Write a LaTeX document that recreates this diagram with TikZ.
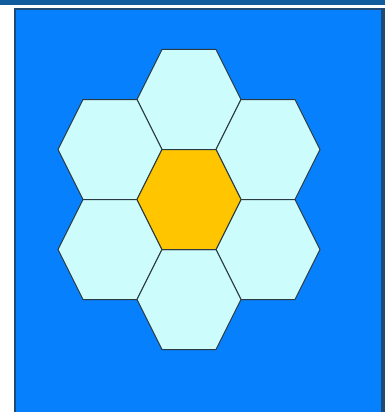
\documentclass[tikz,border=0pt]{standalone}
\begin{document}
\begin{tikzpicture}[x=1pt,y=-1pt,
  hexedge/.style={draw=edgecol, line width=1pt, line join=miter},
  petal/.style={hexedge, fill=petalcol},
  heart/.style={hexedge, fill=heartcol}]
\definecolor{navy}{HTML}{115C9C}
\definecolor{skyblue}{HTML}{0780FD}
\definecolor{petalcol}{HTML}{CCFCFC}
\definecolor{heartcol}{HTML}{FFC600}
\definecolor{frameline}{HTML}{1E4A78}
\definecolor{edgecol}{HTML}{2A3A40}
\useasboundingbox (0,0) rectangle (385,412);
\fill[white] (0,0) rectangle (385,412);
\fill[navy] (0,0) rectangle (385,5.5);
\fill[frameline] (14,8) rectangle (385,412);
\fill[skyblue] (16,10) rectangle (381,412);
\newcommand{\hexat}[3]{%
  \path[#3] (#1-52,#2) -- (#1-27,#2-50) -- (#1+27,#2-50) -- (#1+52,#2)
    -- (#1+27,#2+50) -- (#1-27,#2+50) -- cycle;}
\hexat{189}{99.5}{petal}
\hexat{110}{149.5}{petal}
\hexat{268}{149.5}{petal}
\hexat{110}{249.5}{petal}
\hexat{268}{249.5}{petal}
\hexat{189}{299.5}{petal}
\hexat{189}{199.5}{heart}
\end{tikzpicture}
\end{document}
